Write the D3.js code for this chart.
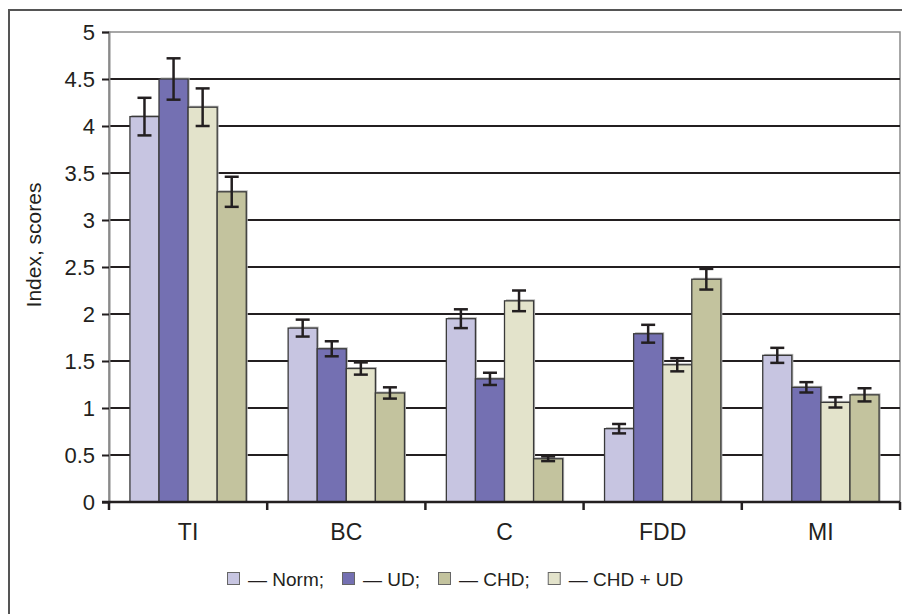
<!DOCTYPE html>
<html>
<head>
<meta charset="utf-8">
<script src="https://cdn.jsdelivr.net/npm/d3@7/dist/d3.min.js"></script>
<style>
  body { margin: 0; background: #fff; }
  text { font-family: "Liberation Sans", Arial, sans-serif; fill: #231f20; }
</style>
</head>
<body>
<svg id="chart" width="902" height="614"></svg>
<script>
// categories and series (bar order inside each group)
var categories = ["TI", "BC", "C", "FDD", "MI"];
var series = ["Norm", "UD", "CHD + UD", "CHD"];
var legendOrder = ["Norm", "UD", "CHD", "CHD + UD"];
var yTicks = [0, 0.5, 1, 1.5, 2, 2.5, 3, 3.5, 4, 4.5, 5];

// mean values per series, one per category
var normVals  = [4.10, 1.85, 1.95, 0.78, 1.56];
var udVals    = [4.50, 1.63, 1.31, 1.79, 1.22];
var chdUdVals = [4.20, 1.42, 2.14, 1.46, 1.06];
var chdVals   = [3.30, 1.16, 0.46, 2.37, 1.14];

// error (half-length of the error bar)
var normErr  = [0.20, 0.09, 0.10, 0.05, 0.08];
var udErr    = [0.22, 0.08, 0.065, 0.095, 0.055];
var chdUdErr = [0.20, 0.065, 0.11, 0.07, 0.055];
var chdErr   = [0.16, 0.06, 0.025, 0.11, 0.07];

var colors = {"Norm": "#c7c5e1", "UD": "#7470b2", "CHD + UD": "#e3e3cb", "CHD": "#c3c39e"};

var table = {
    "Norm": {vals: normVals, err: normErr},
    "UD": {vals: udVals, err: udErr},
    "CHD + UD": {vals: chdUdVals, err: chdUdErr},
    "CHD": {vals: chdVals, err: chdErr}
};

var data = [];
categories.forEach(function(c, i) {
    series.forEach(function(s) {
        data.push({cat: c, key: s, value: table[s].vals[i], err: table[s].err[i]});
    });
});

var svg = d3.select("#chart");
var margin = {top: 32, right: 2, bottom: 112, left: 109},
    width = 902 - margin.left - margin.right,
    height = 614 - margin.top - margin.bottom;

// outer frame (only top and left edges are in view)
svg.append("rect")
    .attr("x", 9).attr("y", 10)
    .attr("width", 1000).attr("height", 1000)
    .attr("fill", "none")
    .attr("stroke", "#555")
    .attr("stroke-width", 2);

var g = svg.append("g").attr("transform", "translate(" + margin.left + "," + margin.top + ")");

var x0 = d3.scaleBand().domain(categories).range([0, width]).padding(0);
var x1 = d3.scaleBand().domain(series).range([0, x0.bandwidth()]).paddingInner(0).paddingOuter(0.72);
var y = d3.scaleLinear().domain([0, 5]).range([height, 0]);

// plot area border (gray)
g.append("rect")
    .attr("x", 0).attr("y", 0)
    .attr("width", width).attr("height", height)
    .attr("fill", "none")
    .attr("stroke", "#8a8a8a")
    .attr("stroke-width", 1.5);

// gridlines
g.selectAll(".grid")
    .data(yTicks.filter(function(t) { return t > 0 && t < 5; }))
    .enter().append("line")
    .attr("x1", 0).attr("x2", width)
    .attr("y1", function(d) { return y(d); })
    .attr("y2", function(d) { return y(d); })
    .attr("stroke", "#231f20")
    .attr("stroke-width", 2.2);

// y axis
var yAxis = g.append("g")
    .call(d3.axisLeft(y).tickValues(yTicks).tickSize(7).tickPadding(7)
        .tickFormat(function(d) { return d; }));
yAxis.select(".domain").attr("stroke", "#8a8a8a").attr("stroke-width", 2);
yAxis.selectAll(".tick line").attr("stroke", "#231f20").attr("stroke-width", 2);
yAxis.selectAll("text").style("font-size", "22px").attr("fill", "#231f20");

// bars
var groups = g.selectAll(".grp")
    .data(categories)
    .enter().append("g")
    .attr("transform", function(d) { return "translate(" + x0(d) + ",0)"; });

groups.selectAll(".shadow")
    .data(function(c) { return data.filter(function(d) { return d.cat === c; }); })
    .enter().append("rect")
    .attr("x", function(d) { return x1(d.key) + 1.5; })
    .attr("y", function(d) { return y(d.value) - 1.5; })
    .attr("width", x1.bandwidth())
    .attr("height", function(d) { return height - y(d.value) + 1.5; })
    .attr("fill", "#b5b5b5");

groups.selectAll(".bar")
    .data(function(c) { return data.filter(function(d) { return d.cat === c; }); })
    .enter().append("rect")
    .attr("x", function(d) { return x1(d.key); })
    .attr("y", function(d) { return y(d.value); })
    .attr("width", x1.bandwidth())
    .attr("height", function(d) { return height - y(d.value); })
    .attr("fill", function(d) { return colors[d.key]; })
    .attr("stroke", "#3a3a3a")
    .attr("stroke-width", 1.3);

// error bars
var eb = groups.selectAll(".err")
    .data(function(c) { return data.filter(function(d) { return d.cat === c; }); })
    .enter().append("g")
    .attr("transform", function(d) { return "translate(" + (x1(d.key) + x1.bandwidth() / 2) + ",0)"; });

eb.append("line")
    .attr("y1", function(d) { return y(d.value + d.err); })
    .attr("y2", function(d) { return y(d.value - d.err); })
    .attr("stroke", "#231f20").attr("stroke-width", 2.5);
eb.append("line")
    .attr("x1", -7).attr("x2", 7)
    .attr("y1", function(d) { return y(d.value + d.err); })
    .attr("y2", function(d) { return y(d.value + d.err); })
    .attr("stroke", "#231f20").attr("stroke-width", 2.5);
eb.append("line")
    .attr("x1", -7).attr("x2", 7)
    .attr("y1", function(d) { return y(d.value - d.err); })
    .attr("y2", function(d) { return y(d.value - d.err); })
    .attr("stroke", "#231f20").attr("stroke-width", 2.5);

// x axis baseline + ticks between categories
g.append("line")
    .attr("x1", -7).attr("x2", width)
    .attr("y1", height).attr("y2", height)
    .attr("stroke", "#231f20").attr("stroke-width", 2.5);

var bounds = categories.map(function(c) { return x0(c); }).concat([width]);
g.selectAll(".xtick")
    .data(bounds)
    .enter().append("line")
    .attr("x1", function(d) { return d; }).attr("x2", function(d) { return d; })
    .attr("y1", height).attr("y2", height + 8)
    .attr("stroke", "#231f20").attr("stroke-width", 2.5);

g.selectAll(".xlabel")
    .data(categories)
    .enter().append("text")
    .attr("x", function(d) { return x0(d) + x0.bandwidth() / 2; })
    .attr("y", height + 38)
    .attr("text-anchor", "middle")
    .style("font-size", "23px")
    .text(function(d) { return d; });

// y axis title
svg.append("text")
    .attr("transform", "translate(41,245) rotate(-90)")
    .attr("text-anchor", "middle")
    .style("font-size", "21px")
    .text("Index, scores");

// legend
var legend = svg.append("g").attr("transform", "translate(227,586)");
var lx = 0;
legendOrder.forEach(function(s, i) {
    legend.append("rect")
        .attr("x", lx + 0.5).attr("y", -13.5)
        .attr("width", 12).attr("height", 12)
        .attr("fill", colors[s])
        .attr("stroke", "#666").attr("stroke-width", 1);
    var t = legend.append("text")
        .attr("x", lx + 21).attr("y", 0)
        .style("font-size", "19px")
        .text("\u2014 " + s + (i < legendOrder.length - 1 ? ";" : ""));
    lx += 21 + t.node().getComputedTextLength() + 18;
});
</script>
</body>
</html>
